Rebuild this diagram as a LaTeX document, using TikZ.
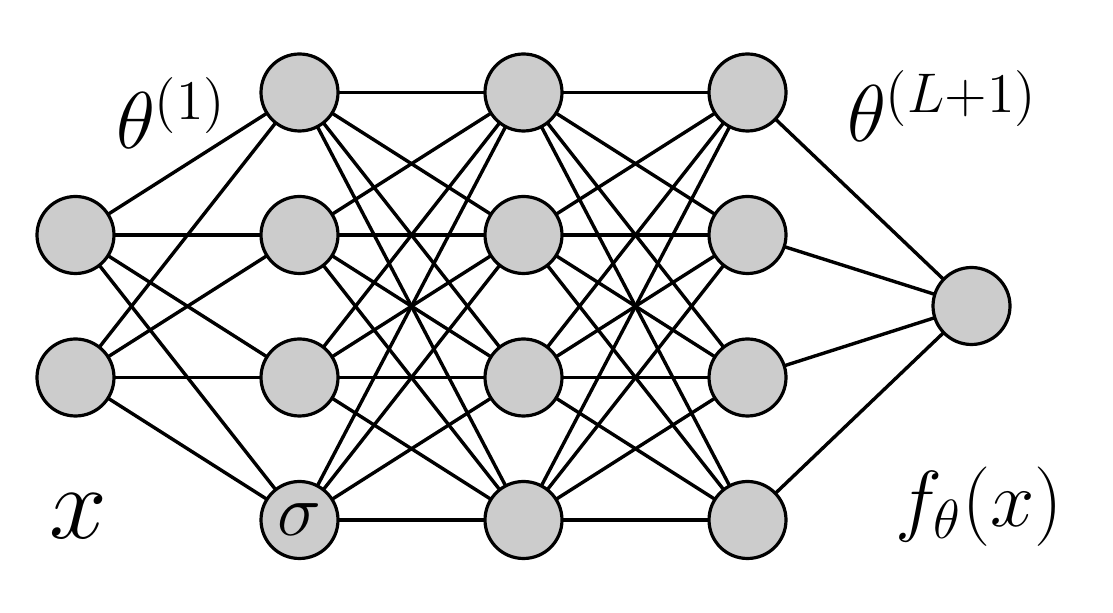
\documentclass[tikz,border=0pt]{standalone}
\usepackage{graphicx}
\newcommand{\bigtxt}[2]{\scalebox{#1}{\LARGE #2}}
\begin{document}
\begin{tikzpicture}[x=0.5pt,y=-0.5pt,
  neuron/.style={circle,draw=black,line width=1.6pt,fill=gray!40,minimum size=38.5pt,inner sep=0pt,outer sep=0pt},
  conn/.style={line width=1.7pt,black},
  lbl/.style={inner sep=0pt,outer sep=0pt,anchor=base west}]
\useasboundingbox (0,0) rectangle (1113,613);
% input
\node[neuron] (i1) at (75.5,235) {};
\node[neuron] (i2) at (75.5,377.5) {};
% hidden layers
\foreach \l/\xx in {1/299.5,2/523.5,3/747.5}{
  \node[neuron] (h\l-1) at (\xx,92.5) {};
  \node[neuron] (h\l-2) at (\xx,235) {};
  \node[neuron] (h\l-3) at (\xx,377.5) {};
  \ifnum\l=1
    \node[neuron] (h\l-4) at (\xx,520) {\bigtxt{2.14}{$\sigma$}};
  \else
    \node[neuron] (h\l-4) at (\xx,520) {};
  \fi
}
% output
\node[neuron] (o) at (971.5,306) {};
% connectors
\foreach \a in {1,2}{\foreach \b in {1,...,4}{\draw[conn] (i\a) -- (h1-\b);}}
\foreach \a in {1,...,4}{\foreach \b in {1,...,4}{
  \draw[conn] (h1-\a) -- (h2-\b);
  \draw[conn] (h2-\a) -- (h3-\b);}}
\foreach \a in {1,...,4}{\draw[conn] (h3-\a) -- (o);}
% labels
\node[lbl] (t1) at (116,149) {\bigtxt{2.33}{$\theta^{(1)}$}};
\node[lbl] (tL) at (847,142) {\bigtxt{2.33}{$\theta^{(L+1)}$}};
\node[lbl] (xl) at (49,539) {\bigtxt{3.0}{$x$}};
\node[lbl] (fl) at (895,527) {\bigtxt{2.3}{$f_\theta(x)$}};
\end{tikzpicture}
\end{document}
